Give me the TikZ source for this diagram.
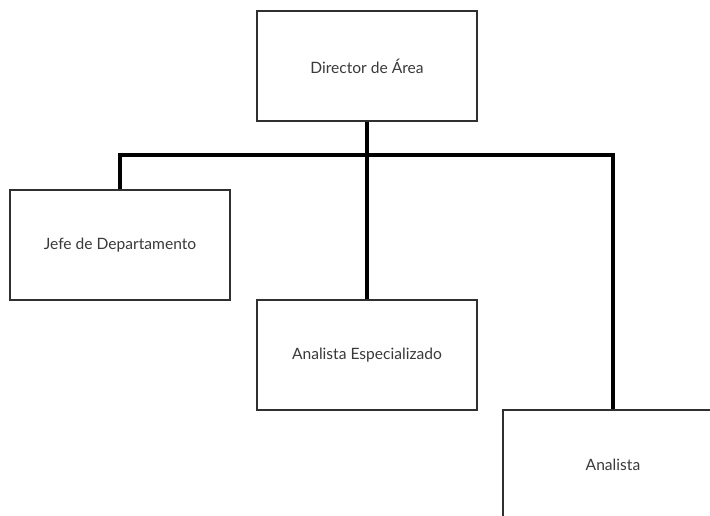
\documentclass[tikz,border=0pt]{standalone}
\usepackage{fontspec}
\setmainfont{Lato}
\definecolor{boxline}{HTML}{303030}
\definecolor{labeltext}{HTML}{3A3A3A}
\begin{document}
\begin{tikzpicture}[x=1pt,y=-1pt,
  role/.style={draw=boxline,line width=1.3pt,fill=white,minimum width=220pt,minimum height=110pt,
    inner sep=0pt,text=labeltext,font=\fontsize{15.6}{18}\selectfont},
  link/.style={draw=black,line width=3.6pt}]
  \useasboundingbox (0,0) rectangle (710,516);
  \clip (0,0) rectangle (710,516);
  \node[role] (dir)  at (367,66)  {Director de Área};
  \node[role] (jefe) at (120,245) {Jefe de Departamento};
  \node[role] (esp)  at (367,355) {Analista Especializado};
  \node[role] (ana)  at (613,465) {Analista};
  \coordinate (bus) at (367,155);
  \draw[link] (dir.south) -- (esp.north);
  \draw[link] (jefe.north) |- (bus) -| (ana.north);
\end{tikzpicture}
\end{document}
